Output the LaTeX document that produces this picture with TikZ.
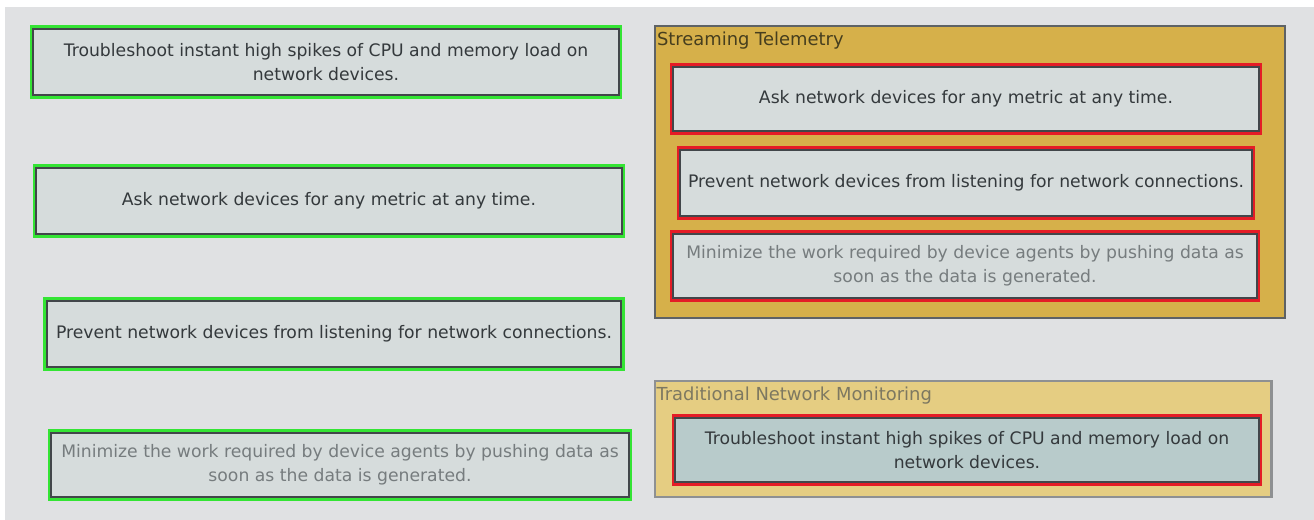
\documentclass[tikz,border=0pt]{standalone}
\usepackage{fontspec}
\setmainfont{DejaVu Sans}
\usetikzlibrary{positioning, fit}
\definecolor{pagegrey}{RGB}{224,225,227}
\definecolor{itemgrey}{RGB}{214,220,220}
\definecolor{itemblue}{RGB}{184,203,203}
\definecolor{edgegrey}{RGB}{66,70,74}
\definecolor{markgreen}{RGB}{52,228,52}
\definecolor{markred}{RGB}{228,28,38}
\definecolor{gold}{RGB}{214,176,74}
\definecolor{palegold}{RGB}{229,205,130}
\definecolor{textgrey}{RGB}{52,57,60}
\definecolor{fadegrey}{RGB}{118,124,126}
\definecolor{titleolive}{RGB}{70,62,30}

\begin{document}
\begin{tikzpicture}[x=0.02cm, y=-0.02cm,
  item/.style={draw=edgegrey, line width=1.2pt, fill=itemgrey, text=textgrey, align=center,
    minimum width=11.7cm, minimum height=1.34cm, inner sep=2pt, font=\fontsize{9.8}{13.6}\selectfont},
  okmark/.style={draw=markgreen, line width=1.6pt, inner sep=0.6pt},
  badmark/.style={draw=markred, line width=1.6pt, inner sep=0.6pt},
  panel/.style={draw=edgegrey!85, line width=1.2pt, inner sep=0pt},
  paneltitle/.style={anchor=north west, inner sep=1.5pt, yshift=-2pt, font=\fontsize{10.2}{12}\selectfont}
]
  % page
  \fill[white] (0,0) rectangle (1314,520);
  \fill[pagegrey] (5,7) rectangle (1314,520);
  \useasboundingbox (0,0) rectangle (1314,520);

  % items to drag (left)
  \node[item, minimum width=11.72cm] (ltrouble) at (326,62)
    {Troubleshoot instant high spikes of CPU and memory load on\\network devices.};
  \node[okmark, fit=(ltrouble)] (ltroublemark) {};
  \node[item, minimum width=11.72cm] (lask) at (329,201)
    {Ask network devices for any metric at any time.};
  \node[okmark, fit=(lask)] (laskmark) {};
  \node[item, minimum width=11.5cm] (lprevent) at (334,334)
    {Prevent network devices from listening for network connections.};
  \node[okmark, fit=(lprevent)] (lpreventmark) {};
  \node[item, minimum width=11.56cm, minimum height=1.3cm, text=fadegrey] (lminimize) at (340,465)
    {Minimize the work required by device agents by pushing data as\\soon as the data is generated.};
  \node[okmark, fit=(lminimize)] (lminimizemark) {};

  % target panels (right)
  \node[panel, fill=gold, minimum width=12.6cm, minimum height=5.84cm] (stpanel) at (970,172) {};
  \node[paneltitle, text=titleolive] (sttitle) at (stpanel.north west) {Streaming Telemetry};
  \node[panel, fill=palegold, draw=edgegrey!60, minimum width=12.34cm, minimum height=2.32cm] (tnmpanel) at (963,439) {};
  \node[paneltitle, text=titleolive!70] (tnmtitle) at (tnmpanel.north west) {Traditional Network Monitoring};

  \node[item, minimum width=11.72cm, minimum height=1.3cm] (rask) at (966,99)
    {Ask network devices for any metric at any time.};
  \node[badmark, fit=(rask)] (raskmark) {};
  \node[item, minimum width=11.44cm] (rprevent) at (966,183)
    {Prevent network devices from listening for network connections.};
  \node[badmark, fit=(rprevent)] (rpreventmark) {};
  \node[item, minimum width=11.68cm, minimum height=1.3cm, text=fadegrey] (rminimize) at (965,266)
    {Minimize the work required by device agents by pushing data as\\soon as the data is generated.};
  \node[badmark, fit=(rminimize)] (rminimizemark) {};
  \node[item, fill=itemblue, minimum width=11.68cm, minimum height=1.3cm] (rtrouble) at (967,450)
    {Troubleshoot instant high spikes of CPU and memory load on\\network devices.};
  \node[badmark, fit=(rtrouble)] (rtroublemark) {};
\end{tikzpicture}
\end{document}
